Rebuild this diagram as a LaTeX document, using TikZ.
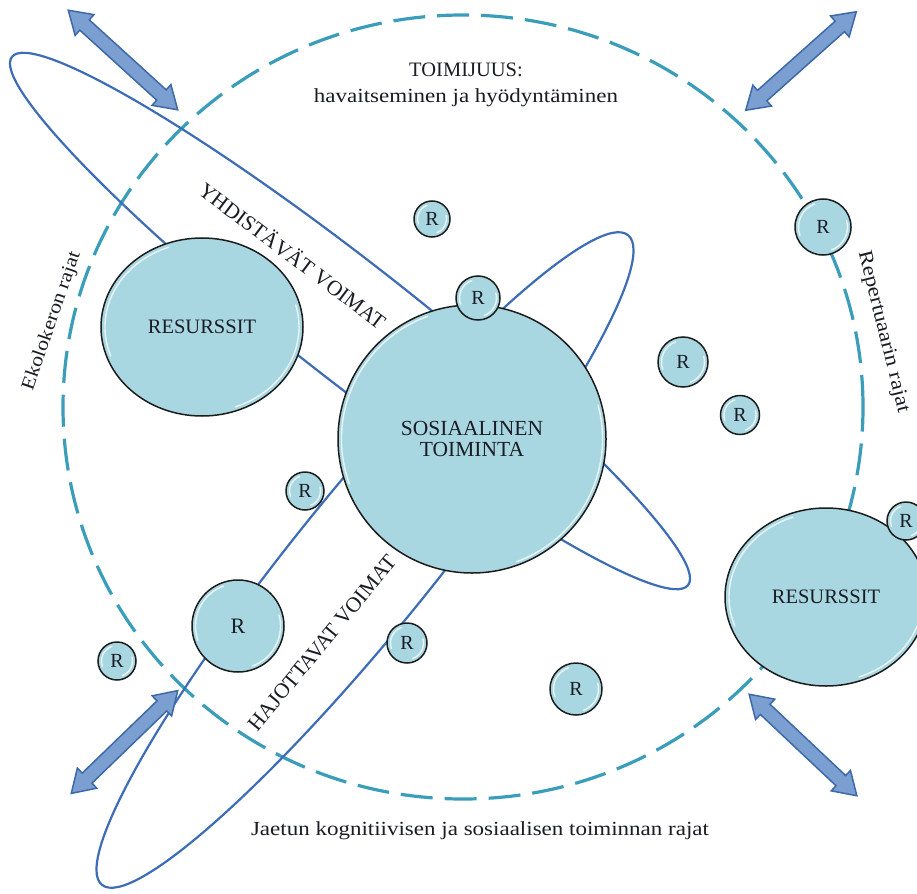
\documentclass[tikz,border=0pt]{standalone}
\usepackage{fontspec}
\setmainfont{Liberation Serif}
\newfontfamily\widefont{Liberation Serif}[FakeStretch=1.15]
\usetikzlibrary{shapes.geometric,calc}

\definecolor{bubblefill}{HTML}{A9D7E1}
\definecolor{rimdark}{HTML}{1C1C1C}
\definecolor{orbitblue}{HTML}{3C6DB6}
\definecolor{boundaryteal}{HTML}{3A9DBA}
\definecolor{arrowfill}{HTML}{7C9FD2}
\definecolor{arrowedge}{HTML}{3D69A8}
\definecolor{ink}{HTML}{1A1D26}

\begin{document}
\begin{tikzpicture}[x=1pt,y=-1pt,
  gloss/.style={path picture={
    \draw[white, line width=1.4pt, opacity=.75, line cap=round]
      let \p1=(path picture bounding box.north east),
          \p2=(path picture bounding box.center),
          \n1={\x1-\x2-#1}, \n2={\y1-\y2-#1} in
      (\p2) ++(110:\n1 and \n2) arc[start angle=110, end angle=200, x radius=\n1, y radius=\n2]
      (\p2) ++(-70:\n1 and \n2) arc[start angle=-70, end angle=15, x radius=\n1, y radius=\n2];
  }},
  bubble/.style={circle, draw=rimdark, line width=1.5pt, fill=bubblefill,
    inner sep=0pt, text=ink, gloss=3.5pt},
  rsmall/.style={bubble, minimum size=#1, font=\fontsize{20}{22}\selectfont},
  resource/.style={ellipse, draw=rimdark, line width=1.5pt, fill=bubblefill,
    minimum width=202pt, minimum height=178pt, inner sep=0pt, text=ink,
    gloss=4pt, font=\fontsize{20.5}{22}\selectfont},
  orbitline/.style={draw=orbitblue, line width=2.2pt},
  edgeline/.style={draw=boundaryteal, line width=3.2pt, dash pattern=on 32pt off 12pt},
  captext/.style={text=ink, font=\fontsize{21.5}{23}\selectfont, inner sep=0pt},
  lowtext/.style={text=ink, font=\widefont\fontsize{#1}{22}\selectfont, inner sep=0pt},
  pics/dblarrow/.style={code={
    \filldraw[fill=arrowfill, draw=arrowedge, line width=1.5pt, line join=miter]
      (-74pt,0pt) -- (-52pt,14pt) -- (-52pt,7pt) -- (52pt,7pt) -- (52pt,14pt)
      -- (74pt,0pt) -- (52pt,-14pt) -- (52pt,-7pt) -- (-52pt,-7pt)
      -- (-52pt,-14pt) -- cycle;
  }},
]
\fill[white] (0,0) rectangle (917,893);
\clip (0,0) rectangle (917,893);

% outer dashed boundary
\draw[edgeline] (463,407) ellipse [x radius=400pt, y radius=392pt];

% the two orbits
\draw[orbitline, rotate around={-38:(350,321)}] (350,321) ellipse [x radius=429pt, y radius=59pt];
\draw[orbitline, rotate around={51:(365,560)}] (365,560) ellipse [x radius=418pt, y radius=69pt];

% resources and social action
\node[resource] (resL) at (202,327) {RESURSSIT};
\node[resource] (resR) at (826,597) {RESURSSIT};
\node[bubble, minimum size=268pt, align=center, font=\fontsize{21.5}{21}\selectfont]
  (sos) at (472,439) {SOSIAALINEN\\TOIMINTA};

% single resources
\node[rsmall=36pt] (r1) at (432,219) {R};
\node[rsmall=44pt] (r2) at (478,298) {R};
\node[rsmall=56pt] (r3) at (823,227) {R};
\node[rsmall=50pt] (r4) at (683,362) {R};
\node[rsmall=39pt] (r5) at (740,415) {R};
\node[rsmall=38pt] (r6) at (305,491) {R};
\node[rsmall=92pt, font=\fontsize{22}{24}\selectfont] (r7) at (238,626) {R};
\node[rsmall=38pt] (r8) at (117,661) {R};
\node[rsmall=40pt] (r9) at (407,643) {R};
\node[rsmall=52pt] (r10) at (576,689) {R};
\node[rsmall=38pt] (r11) at (906,521) {R};

% exchange arrows across the boundary
\pic[rotate=-42.3] at (123,60) {dblarrow};
\pic[rotate=41.7] at (801,61) {dblarrow};
\pic[rotate=44] at (124.5,742) {dblarrow};
\pic[rotate=-43.3] at (803,745) {dblarrow};

% labels
\node[captext, anchor=base, font=\fontsize{20.5}{22}\selectfont] (toim) at (466,77) {TOIMIJUUS:};
\node[lowtext=20, anchor=base] (hav) at (466,103) {havaitseminen ja hyödyntäminen};
\node[lowtext=20, anchor=base] (jaetun) at (480,835) {Jaetun kognitiivisen ja sosiaalisen toiminnan rajat};
\node[lowtext=19, rotate=71] (eko) at (52,321) {Ekolokeron rajat};
\node[lowtext=20, rotate=-76] (rep) at (883,332) {Repertuaarin rajat};
\node[captext, rotate=-37] (yhd) at (293,255) {YHDISTÄVÄT VOIMAT};
\node[captext, rotate=50.5] (haj) at (322,643) {HAJOTTAVAT VOIMAT};
\end{tikzpicture}
\end{document}
